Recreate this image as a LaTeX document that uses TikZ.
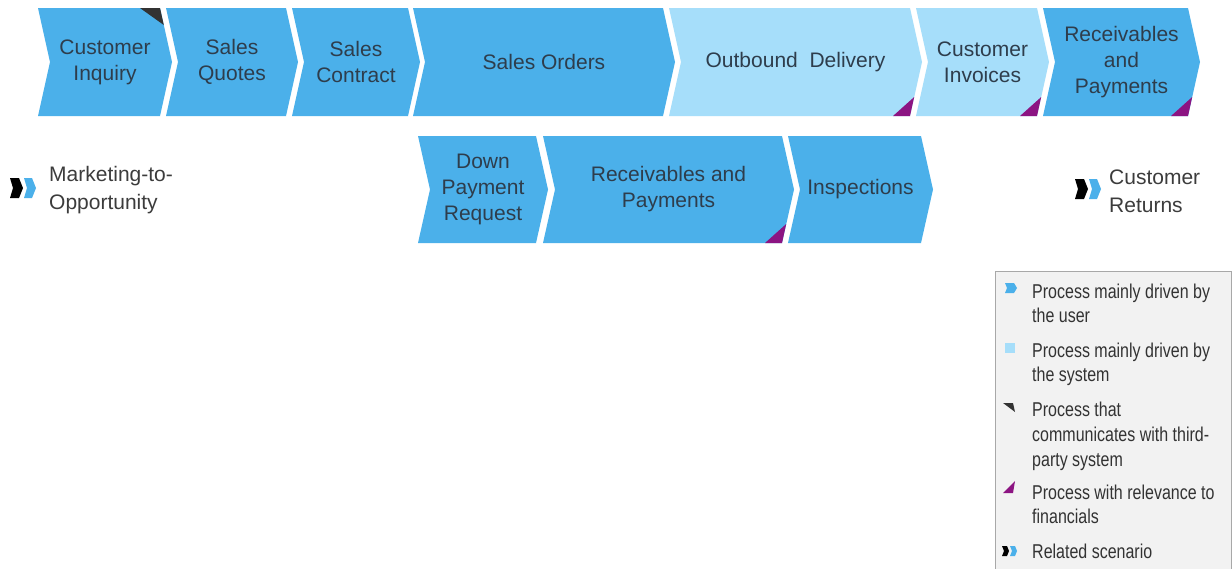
\documentclass[tikz,border=0pt]{standalone}
\usepackage{fontspec}
\setmainfont{Liberation Sans}
\newfontfamily\legfont[FakeStretch=0.8]{Liberation Sans}
\definecolor{userblue}{HTML}{4BB0EA}
\definecolor{sysblue}{HTML}{A6DEFA}
\definecolor{finpurple}{HTML}{8C1482}
\definecolor{thirdgray}{HTML}{333333}
\definecolor{boxtxt}{HTML}{2E3D4C}
\definecolor{sidetxt}{HTML}{3C3C3C}
\definecolor{leggray}{HTML}{F2F2F2}
\definecolor{legborder}{HTML}{A8A8A8}
\tikzset{
  boxtext/.style={font=\fontsize{21}{26}\selectfont, text=boxtxt, align=center, inner sep=0pt},
  sidetext/.style={font=\fontsize{21}{28}\selectfont, text=sidetxt, align=left, inner sep=0pt, anchor=west},
  legtext/.style={font=\legfont\fontsize{20}{25}\selectfont, text=thirdgray, inner sep=0pt, anchor=base west},
}
% #1 name, #2 left x, #3 right x, #4 top y, #5 bottom y, #6 colour, #7 text
\newcommand\chev[7]{%
  \pgfmathsetmacro\chmid{(#4+#5)/2}%
  \fill[#6] (#2,#4) -- (#3,#4) -- ({#3+12},\chmid) -- (#3,#5) -- (#2,#5) -- ({#2+12},\chmid) -- cycle;
  \node[boxtext] (#1) at ({(#2+#3)/2+6},\chmid) {#7};
}
% financial marker at bottom-right corner: #1 right x, #2 bottom y
\newcommand\finmark[2]{%
  \fill[finpurple] ({#1-17},#2) -- (#1,#2) -- ({#1+4.2},{#2-19}) -- cycle;
}
% small scenario icon: #1 left x, #2 top y
\newcommand\scenicon[2]{%
  \fill[black] (#1,#2) -- ({#1+9},#2) -- ({#1+13},{#2+10}) -- ({#1+9},{#2+20}) -- (#1,{#2+20}) -- ({#1+3},{#2+10}) -- cycle;
  \fill[userblue] ({#1+14},#2) -- ({#1+22},#2) -- ({#1+26},{#2+10}) -- ({#1+22},{#2+20}) -- ({#1+14},{#2+20}) -- ({#1+17},{#2+10}) -- cycle;
}
\begin{document}
\begin{tikzpicture}[x=1pt,y=-1pt]
\useasboundingbox (0,0) rectangle (1232,568);
\fill[white] (0,0) rectangle (1232,568);

% legend box
\draw[fill=leggray, draw=legborder, line width=1pt] (995,271) rectangle (1231,580);

% top row
\chev{ci}{38}{160}{8}{116}{userblue}{Customer\\Inquiry}
\chev{sq}{166}{286}{8}{116}{userblue}{Sales\\Quotes}
\chev{sc}{292}{408}{8}{116}{userblue}{Sales\\Contract}
\chev{so}{413}{663}{8}{116}{userblue}{Sales Orders}
\chev{od}{669}{910}{8}{116}{sysblue}{Outbound~~Delivery}
\chev{cinv}{916}{1037}{8}{116}{sysblue}{Customer\\Invoices}
\chev{rp}{1043}{1188}{8}{116}{userblue}{Receivables\\and\\Payments}

% bottom row
\chev{dpr}{418}{536}{136}{243}{userblue}{Down\\Payment\\Request}
\chev{rp2}{543}{782}{136}{243}{userblue}{Receivables and\\Payments}
\chev{insp}{788}{921}{136}{243}{userblue}{Inspections}

% third-party marker
\fill[thirdgray] (140,8) -- (160,8) -- (163.8,25) -- cycle;
% financial markers
\finmark{910}{116}
\finmark{1037}{116}
\finmark{1188}{116}
\finmark{782}{243}

% related scenarios
\scenicon{10}{178}
\node[sidetext] (mto) at (49,190) {Marketing-to-\\Opportunity};
\scenicon{1075}{179}
\node[sidetext] (cret) at (1109,191) {Customer\\Returns};

% legend icons
\fill[userblue] (1005,283) -- (1014,283) -- (1017,288) -- (1014,293) -- (1005,293) -- (1007,288) -- cycle;
\fill[sysblue] (1005,343) rectangle (1015,353);
\fill[thirdgray] (1003,403) -- (1013,403) -- (1015,412) -- cycle;
\fill[finpurple] (1003,493) -- (1013,493) -- (1015,481) -- cycle;
\fill[black] (1002,546) -- (1007,546) -- (1009,551) -- (1007,556) -- (1002,556) -- (1004,551) -- cycle;
\fill[userblue] (1010,546) -- (1015,546) -- (1017,551) -- (1015,556) -- (1010,556) -- (1012,551) -- cycle;

% legend texts
\node[legtext] (l1a) at (1032,298) {Process mainly driven by};
\node[legtext] (l1b) at (1032,322.5) {the user};
\node[legtext] (l2a) at (1032,357) {Process mainly driven by};
\node[legtext] (l2b) at (1032,381.5) {the system};
\node[legtext] (l3a) at (1032,416.5) {Process that};
\node[legtext] (l3b) at (1032,441.5) {communicates with third-};
\node[legtext] (l3c) at (1032,466.5) {party system};
\node[legtext] (l4a) at (1032,499) {Process with relevance to};
\node[legtext] (l4b) at (1032,523.5) {financials};
\node[legtext] (l5a) at (1032,558) {Related scenario};
\end{tikzpicture}
\end{document}
